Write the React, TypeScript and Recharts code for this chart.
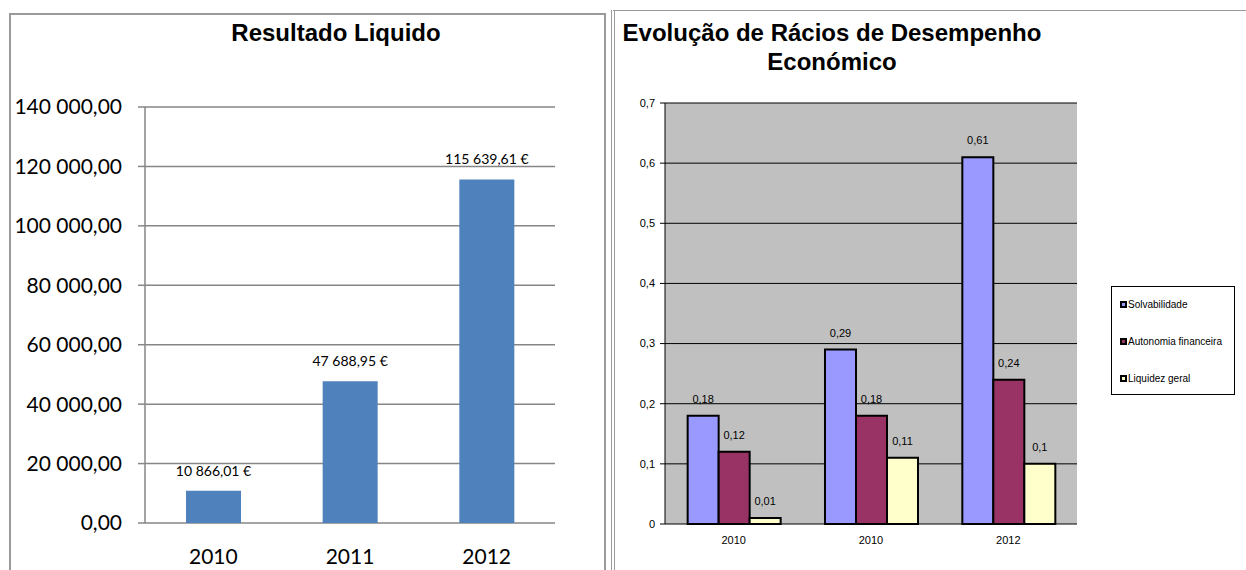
import { BarChart, Bar, XAxis, YAxis, CartesianGrid, LabelList } from 'recharts'

// Resultado Liquido (left chart)
const years = ['2010', '2011', '2012']
const netResult = [10866.01, 47688.95, 115639.61]
const resultTicks = [0, 20000, 40000, 60000, 80000, 100000, 120000, 140000]

// Rácios de desempenho (right chart)
const ratioYears = ['2010', '2010', '2012']
const solvabilidade = [0.18, 0.29, 0.61]
const autonomia = [0.12, 0.18, 0.24]
const liquidez = [0.01, 0.11, 0.1]
const ratioTicks = [0, 0.1, 0.2, 0.3, 0.4, 0.5, 0.6, 0.7]

const ratioSeries = [
  { key: 'solv', name: 'Solvabilidade', color: '#9999FF' },
  { key: 'auto', name: 'Autonomia financeira', color: '#993366' },
  { key: 'liq', name: 'Liquidez geral', color: '#FFFFCC' },
]

const resultData = years.map((year, i) => ({ year, value: netResult[i] }))
const ratioData = ratioYears.map((year, i) => ({
  year,
  solv: solvabilidade[i],
  auto: autonomia[i],
  liq: liquidez[i],
}))

// "115639.61" -> "115 639,61"
const ptNumber = (v: number, sep = ' ') => {
  const [int, dec] = Number(v).toFixed(2).split('.')
  return int.replace(/\B(?=(\d{3})+(?!\d))/g, sep) + ',' + dec
}
const ptDecimal = (v: number) => String(v).replace('.', ',')
// non-breaking spaces so the label does not wrap to the bar width
const euroLabel = (v: number) => `${ptNumber(v, '\u00A0')}\u00A0€`

const CALIBRI = 'Lato, "Open Sans", sans-serif'
const ARIAL = '"Liberation Sans", Arial, sans-serif'
const AXIS_GREY = '#868686'

function ResultChart() {
  return (
    <BarChart
      width={620}
      height={570}
      data={resultData}
      margin={{ top: 107, right: 65, bottom: 7, left: 0 }}
      barCategoryGap="30%"
      style={{ position: 'absolute', left: 0, top: 0 }}
    >
      <CartesianGrid vertical={false} stroke={AXIS_GREY} strokeWidth={1.5} />
      {/* boundary ticks between categories, Excel style */}
      <XAxis
        xAxisId="edges"
        type="number"
        domain={[0, 3]}
        ticks={[0, 1, 2, 3]}
        allowDataOverflow
        height={0}
        tick={false}
        tickSize={6}
        stroke={AXIS_GREY}
        strokeWidth={1.5}
      />
      <XAxis
        xAxisId="cat"
        dataKey="year"
        height={40}
        axisLine={false}
        tickLine={false}
        tickSize={0}
        tickMargin={26}
        tick={{ fontSize: 21, fill: '#000', fontFamily: CALIBRI }}
      />
      <YAxis
        width={145}
        domain={[0, 140000]}
        ticks={resultTicks}
        tickSize={7}
        tickMargin={16}
        stroke={AXIS_GREY}
        strokeWidth={1.5}
        tick={{ fontSize: 21, fill: '#000', fontFamily: CALIBRI }}
        tickFormatter={(v: number) => ptNumber(v)}
      />
      <Bar xAxisId="cat" dataKey="value" fill="#4F81BD" isAnimationActive={false}>
        <LabelList
          dataKey="value"
          position="top"
          offset={15}
          formatter={euroLabel}
          style={{ fontSize: 14, fill: '#000', fontFamily: CALIBRI }}
        />
      </Bar>
    </BarChart>
  )
}

function RatioChart() {
  return (
    <BarChart
      width={634}
      height={570}
      data={ratioData}
      margin={{ top: 103, right: 169, bottom: 6, left: 0 }}
      barCategoryGap="16.5%"
      barGap={0}
      style={{ position: 'absolute', left: 612, top: 0 }}
    >
      <CartesianGrid vertical={false} fill="#C0C0C0" fillOpacity={1} stroke="#000" />
      {/* plot frame top and right */}
      <XAxis
        xAxisId="top"
        orientation="top"
        type="number"
        domain={[0, 1]}
        allowDataOverflow
        height={0}
        tick={false}
        tickLine={false}
        stroke="#808080"
        strokeWidth={2}
      />
      <YAxis
        yAxisId="right"
        orientation="right"
        width={0}
        tick={false}
        tickLine={false}
        stroke="#808080"
        strokeWidth={2}
      />
      <XAxis
        xAxisId="edges"
        type="number"
        domain={[0, 3]}
        ticks={[0, 1, 2, 3]}
        allowDataOverflow
        height={0}
        tick={false}
        tickSize={5}
        stroke="#000"
      />
      <XAxis
        xAxisId="cat"
        dataKey="year"
        height={40}
        axisLine={false}
        tickLine={false}
        tickSize={0}
        tickMargin={12}
        tick={{ fontSize: 11, fill: '#000', fontFamily: ARIAL }}
      />
      <YAxis
        width={53}
        domain={[0, 0.7]}
        ticks={ratioTicks}
        tickSize={5}
        tickMargin={5}
        stroke="#000"
        tick={{ fontSize: 11, fill: '#000', fontFamily: ARIAL }}
        tickFormatter={ptDecimal}
      />
      {ratioSeries.map((s) => (
        <Bar
          key={s.key}
          xAxisId="cat"
          dataKey={s.key}
          name={s.name}
          fill={s.color}
          stroke="#000"
          strokeWidth={2}
          isAnimationActive={false}
        >
          <LabelList
            dataKey={s.key}
            position="top"
            offset={13}
            formatter={ptDecimal}
            style={{ fontSize: 11, fill: '#000', fontFamily: ARIAL }}
          />
        </Bar>
      ))}
    </BarChart>
  )
}

function RatioLegend() {
  return (
    <div
      style={{
        position: 'absolute',
        left: 1111,
        top: 286,
        width: 124,
        height: 109,
        border: '1px solid #000',
        fontFamily: ARIAL,
        fontSize: 10,
        boxSizing: 'border-box',
      }}
    >
      {ratioSeries.map((s, i) => (
        <div
          key={s.key}
          style={{
            position: 'absolute',
            left: 8,
            top: 12 + i * 37,
            display: 'flex',
            alignItems: 'center',
            whiteSpace: 'nowrap',
          }}
        >
          <span
            style={{
              width: 3,
              height: 3,
              border: '2px solid #000',
              background: s.color,
              marginRight: 1,
            }}
          />
          {s.name}
        </div>
      ))}
    </div>
  )
}

export default function App() {
  return (
    <div
      style={{
        position: 'absolute',
        left: 0,
        top: 0,
        width: 1246,
        height: 570,
        overflow: 'hidden',
        background: '#fff',
      }}
    >
      {/* chart frames */}
      <div
        style={{
          position: 'absolute',
          left: 9,
          top: 13,
          width: 597,
          height: 600,
          border: '2px solid #9a9a9a',
          boxSizing: 'border-box',
        }}
      />
      <div
        style={{
          position: 'absolute',
          left: 611,
          top: 10,
          width: 700,
          height: 600,
          borderLeft: '4px double #9a9a9a',
          borderTop: '1px solid #9a9a9a',
          boxSizing: 'border-box',
        }}
      />
      <div
        style={{
          position: 'absolute',
          left: 136,
          top: 19,
          width: 400,
          textAlign: 'center',
          fontFamily: ARIAL,
          fontWeight: 'bold',
          fontSize: 24,
        }}
      >
        Resultado Liquido
      </div>
      <div
        style={{
          position: 'absolute',
          left: 582,
          top: 18,
          width: 500,
          textAlign: 'center',
          fontFamily: ARIAL,
          fontWeight: 'bold',
          fontSize: 24,
          lineHeight: '29px',
        }}
      >
        Evolução de Rácios de Desempenho
        <br />
        Económico
      </div>
      <ResultChart />
      <RatioChart />
      <RatioLegend />
    </div>
  )
}
